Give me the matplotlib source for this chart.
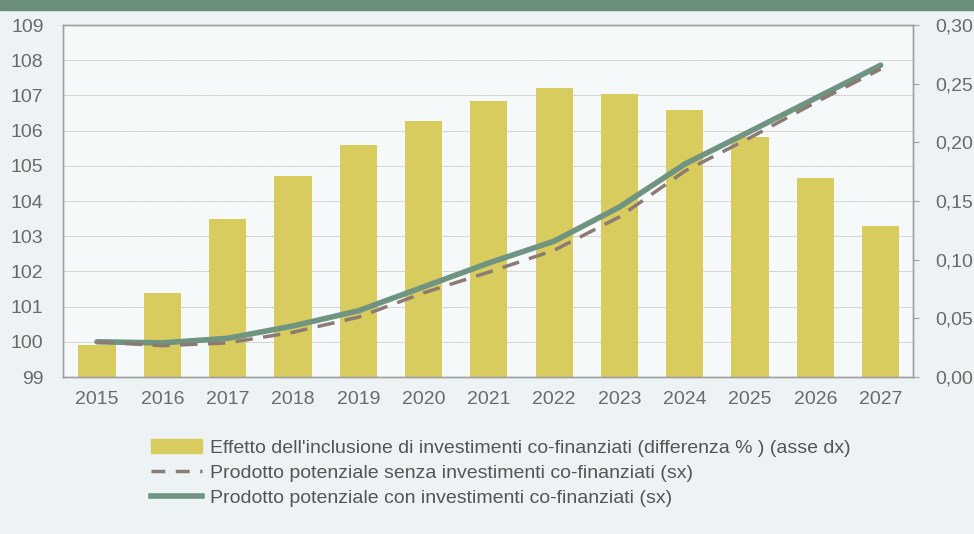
import numpy as np
import matplotlib.pyplot as plt
from matplotlib.patches import Patch
from matplotlib.lines import Line2D

plt.rcParams['font.family'] = ['Liberation Sans', 'DejaVu Sans']

# dati
anni = ['2015', '2016', '2017', '2018', '2019', '2020', '2021',
        '2022', '2023', '2024', '2025', '2026', '2027']
effetto = [0.027, 0.072, 0.135, 0.171, 0.198, 0.218, 0.235,
           0.246, 0.241, 0.228, 0.205, 0.170, 0.129]
senza = [100.0, 99.89, 99.97, 100.27, 100.70, 101.39, 101.98,
         102.60, 103.55, 104.85, 105.80, 106.80, 107.75]
con = [100.0, 99.97, 100.10, 100.45, 100.88, 101.56, 102.24,
       102.86, 103.83, 105.05, 105.98, 106.92, 107.86]

bg = '#edf3f5'
giallo = '#d8cc5e'
verde = '#6f9482'
grigio = '#8b7b73'
testo = '#6a6a6a'

fig = plt.figure(figsize=(9.74, 5.34), dpi=100, facecolor=bg)
# banda verde in alto
fig.patches.append(plt.Rectangle((0, 0.982), 1, 0.018, transform=fig.transFigure,
                                 color='#6b8e7b', zorder=0))

ax = fig.add_axes([0.0647, 0.294, 0.873, 0.659])
ax2 = ax.twinx()
x = np.arange(len(anni))

# barre sull'asse destro
ax2.bar(x, effetto, width=0.57, color=giallo, zorder=1)
ax2.set_ylim(0, 0.30)
ax2.set_yticks(np.arange(0, 0.301, 0.05))
ax2.set_yticklabels([f'{v:.2f}'.replace('.', ',') for v in np.arange(0, 0.301, 0.05)])

# linee sull'asse sinistro (sopra le barre)
ax.set_zorder(ax2.get_zorder() + 1)
ax.patch.set_visible(False)
ax.plot(x, con, color=verde, lw=4, solid_capstyle='round', solid_joinstyle='round', zorder=3)
ax.plot(x, senza, color=grigio, lw=2.5, ls=(0, (5, 3)), zorder=4)
ax.set_ylim(99, 109)
ax.set_yticks(range(99, 110))
ax.set_xlim(-0.52, 12.5)
ax.set_xticks(x)
ax.set_xticklabels(anni)

ax2.set_facecolor('#f6f9fa')
ax2.patch.set_visible(True)
for v in range(100, 109):
    ax2.axhline((v - 99) * 0.03, color='#c9c1bf', lw=0.7, ls=(0, (1, 0.5)), zorder=0)

for a in (ax, ax2):
    for s in a.spines.values():
        s.set_color('#a0a0a0')
        s.set_linewidth(1)
    a.tick_params(labelsize=14, colors=testo)
ax.tick_params(axis='y', length=0, pad=14)
ax.tick_params(axis='x', length=0, pad=10)
ax2.tick_params(axis='y', length=4, color='#a0a0a0', pad=12)

handles = [Patch(color=giallo),
           Line2D([], [], color=grigio, lw=2.5, ls=(0, (4, 3))),
           Line2D([], [], color=verde, lw=4)]
labels = ["Effetto dell'inclusione di investimenti co-finanziati (differenza % ) (asse dx)",
          'Prodotto potenziale senza investimenti co-finanziati (sx)',
          'Prodotto potenziale con investimenti co-finanziati (sx)']
leg = fig.legend(handles, labels, loc='upper left', bbox_to_anchor=(0.147, 0.192),
                 frameon=False, fontsize=14, handlelength=2.6, handletextpad=0.45,
                 labelspacing=0.38, borderaxespad=0)
for t in leg.get_texts():
    t.set_color('#555555')

fig.savefig('out.png', dpi=100, facecolor=bg)
